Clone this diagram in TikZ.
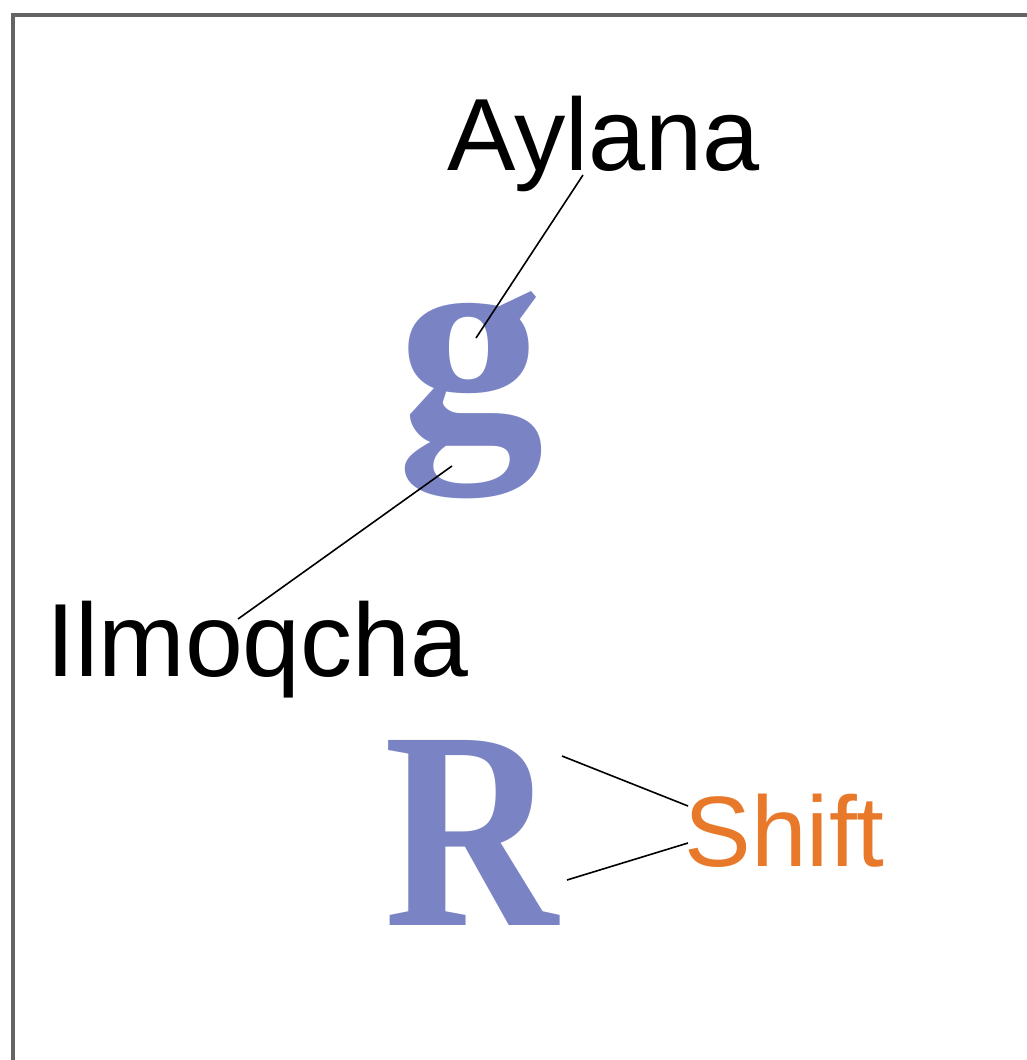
\documentclass[tikz,border=0pt]{standalone}
\usepackage{fontspec}
\setmainfont{Liberation Sans}
\newfontfamily\glyphfont{Liberation Serif}
\definecolor{glyphblue}{RGB}{122,132,196}
\definecolor{shiftorange}{RGB}{232,121,42}
\tikzset{every picture/.style={line width=0.75pt}}
\tikzset{
	partlabel/.style={anchor=base west,inner sep=0pt,font=\fontsize{77}{80}\selectfont},
	bigglyph/.style={anchor=base west,inner sep=0pt,text=glyphblue,font=\glyphfont\bfseries\fontsize{212}{212}\selectfont},
	pointer/.style={line width=1.2pt,color=black},
	frameline/.style={line width=2.6pt,color={rgb, 255:red, 100; green, 100; blue, 100 }}
}
\begin{document}
\begin{tikzpicture}[x=0.75pt,y=0.75pt,yscale=-1,xscale=1]
			\useasboundingbox (0,0) rectangle (1027,1060);
			
			%Frame
			\draw [frameline]  (13,1062) -- (13,15) -- (1029,15) ;
			
			% Glyph Node
			\node [bigglyph,xscale=1.04] (gletter) at (397,436) {g};
			% Glyph Node
			\node [bigglyph,xscale=0.85] (rletter) at (384,925) {R};
			
			% Text Node
			\node [partlabel] (aylana) at (447,170) {Aylana};
			% Text Node
			\node [partlabel,font=\fontsize{78}{80}\selectfont] (ilmoqcha) at (46,676) {Ilmoqcha};
			% Text Node
			\node [partlabel,text=shiftorange,font=\fontsize{75}{78}\selectfont] (shift) at (684,866) {Shift};
			
			%Line ends
			\coordinate (aylanatip) at (583,175);
			\coordinate (gtop) at (476,338);
			\coordinate (gbottom) at (452,466);
			\coordinate (ilmoqchatip) at (238,619);
			\coordinate (rtop) at (562,756);
			\coordinate (rbottom) at (567,880);
			\coordinate (shifttop) at (688,806);
			\coordinate (shiftbottom) at (688,843);
			
			%Straight Lines
			\draw [pointer]  (aylanatip) -- (gtop) ;
			%Straight Lines
			\draw [pointer]  (gbottom) -- (ilmoqchatip) ;
			%Straight Lines
			\draw [pointer]  (rtop) -- (shifttop) ;
			%Straight Lines
			\draw [pointer]  (rbottom) -- (shiftbottom) ;
		\end{tikzpicture}
\end{document}
